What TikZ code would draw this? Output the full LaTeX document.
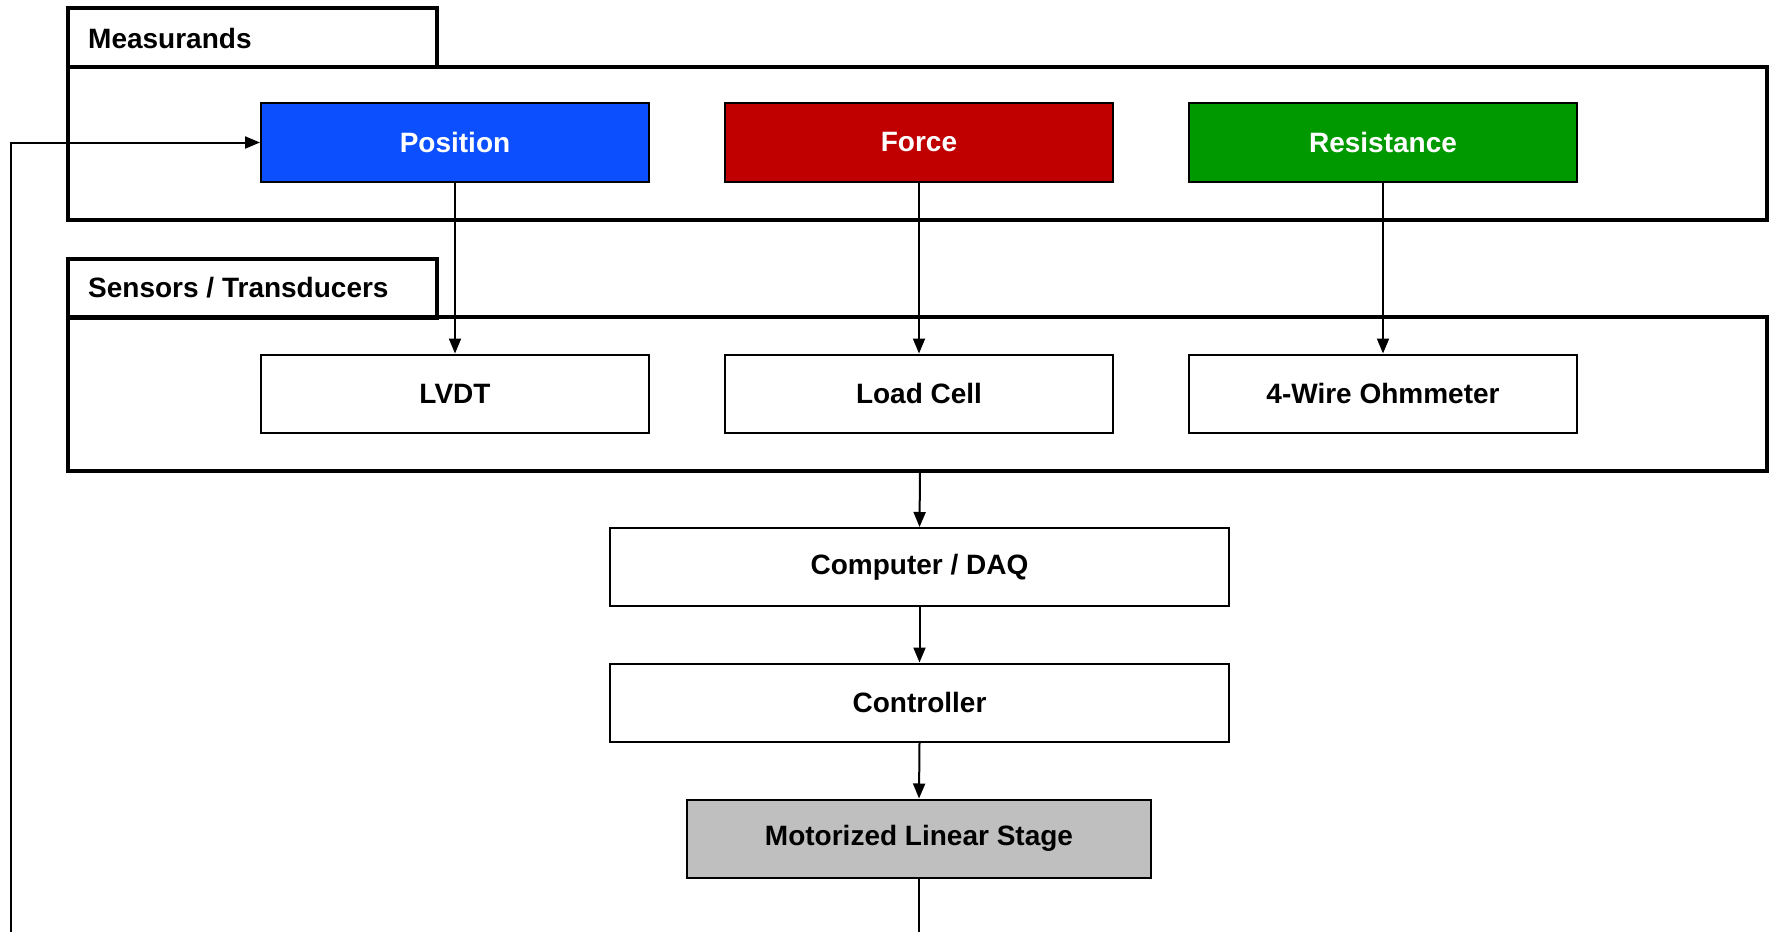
\documentclass[tikz,border=0pt]{standalone}
\usepackage{fontspec}
\setmainfont{Liberation Sans}
\usetikzlibrary{arrows.meta}
\definecolor{posblue}{HTML}{0B4FFF}
\definecolor{forcered}{HTML}{C00000}
\definecolor{resgreen}{HTML}{009A00}
\definecolor{stagegray}{HTML}{BFBFBF}
\tikzset{
  frame/.style={draw, line width=4pt, rectangle, inner sep=0pt},
  tabbox/.style={draw, line width=4pt, rectangle, inner sep=0pt, minimum width=369pt, minimum height=59pt},
  tablabel/.style={anchor=west, inner sep=0pt, font=\fontsize{28}{32}\selectfont\bfseries},
  blk/.style={draw, line width=2pt, rectangle, minimum width=388pt, minimum height=78pt, inner sep=0pt, font=\fontsize{28}{32}\selectfont\bfseries},
  wideblk/.style={blk, minimum width=619pt},
  conn/.style={line width=2pt, -{Triangle[length=15pt,width=12pt]}},
  plain/.style={line width=2pt}
}
\begin{document}
\begin{tikzpicture}[x=1pt,y=-1pt]
\useasboundingbox (0,0) rectangle (1771,931);
% frames
\node[frame, minimum width=1699pt, minimum height=153pt] (mframe) at (917.5,143.5) {};
\node[tabbox] (mtab) at (252.5,37.5) {};
\node[tablabel] (mlabel) at (88,38) {Measurands};
\node[frame, minimum width=1699pt, minimum height=154pt] (sframe) at (917.5,394) {};
\node[tabbox] (stab) at (252.5,288) {};
\node[tablabel] (slabel) at (88,288) {Sensors / Transducers};
% measurands
\node[blk, fill=posblue, text=white] (pos) at (455,142.5) {Position};
\node[blk, fill=forcered, text=white] (force) at (919,142.5) {Force};
\node[blk, fill=resgreen, text=white] (res) at (1383,142.5) {Resistance};
% sensors
\node[blk] (lvdt) at (455,393.5) {LVDT};
\node[blk] (load) at (919,393.5) {Load Cell};
\node[blk] (ohm) at (1383,393.5) {4-Wire Ohmmeter};
% chain
\node[wideblk] (daq) at (919.5,567) {Computer / DAQ};
\node[wideblk] (ctrl) at (919.5,702.5) {Controller};
\node[blk, minimum width=464pt, fill=stagegray] (stage) at (919,838.5) {Motorized Linear Stage};
% connectors
\draw[conn] (pos.south) -- (lvdt.north);
\draw[conn] (force.south) -- (load.north);
\draw[conn] (res.south) -- (ohm.north);
\coordinate (sbot) at (920,471);
\draw[conn] (sbot) -- (daq.north);
\draw[conn] (daq.south) -- (ctrl.north);
\draw[conn] (ctrl.south) -- (stage.north);
\coordinate (mbot) at (919,933);
\draw[plain] (stage.south) -- (mbot);
\coordinate (fb) at (11,933);
\draw[conn] (fb) |- (pos.west);
\end{tikzpicture}
\end{document}
